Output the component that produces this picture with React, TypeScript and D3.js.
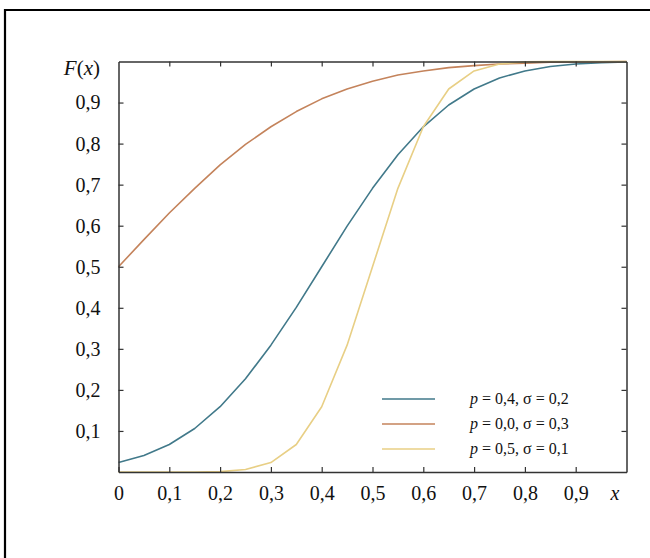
import { useEffect, useRef } from 'react';
import * as d3 from 'd3';

// x grid of the curves
const xs = [0, 0.05, 0.1, 0.15, 0.2, 0.25, 0.3, 0.35, 0.4, 0.45, 0.5, 0.55, 0.6, 0.65, 0.7, 0.75, 0.8, 0.85, 0.9, 0.95, 1];

// p = 0,4, sigma = 0,2
const blue = [0.023, 0.04, 0.067, 0.106, 0.159, 0.227, 0.309, 0.401, 0.5, 0.599, 0.691, 0.773, 0.841, 0.894, 0.933, 0.96, 0.977, 0.988, 0.994, 0.997, 0.999];
// p = 0,0, sigma = 0,3
const orange = [0.5, 0.566, 0.631, 0.691, 0.748, 0.798, 0.841, 0.878, 0.909, 0.933, 0.952, 0.967, 0.977, 0.985, 0.99, 0.994, 0.996, 0.998, 0.999, 0.999, 1];
// p = 0,5, sigma = 0,1
const yellow = [0, 0, 0, 0, 0.001, 0.006, 0.023, 0.067, 0.159, 0.309, 0.5, 0.691, 0.841, 0.933, 0.977, 0.994, 0.999, 1, 1, 1, 1];

const seriesNames = ['p = 0,4, σ = 0,2', 'p = 0,0, σ = 0,3', 'p = 0,5, σ = 0,1'];
const seriesColors = ['#41798a', '#c4835b', '#e8cf85'];

const xTicks = [0, 0.1, 0.2, 0.3, 0.4, 0.5, 0.6, 0.7, 0.8, 0.9];
const yTicks = [0.1, 0.2, 0.3, 0.4, 0.5, 0.6, 0.7, 0.8, 0.9];

const fmt = (d: number) => (d === 0 ? '0' : d3.format('.1f')(d).replace('.', ','));

export default function App() {
  const ref = useRef<SVGSVGElement>(null);

  useEffect(() => {
    const W = 650;
    const H = 558;
    const m = { left: 118.5, right: 626.5, top: 61.5, bottom: 472 };
    const svg = d3.select(ref.current);
    svg.selectAll('*').remove();

    svg.append('rect').attr('width', W).attr('height', H).attr('fill', '#fff');
    // outer frame: only the left and top edges are in view
    svg.append('path')
      .attr('d', `M5,${H}V10H${W}`)
      .attr('fill', 'none').attr('stroke', '#000').attr('stroke-width', 2.2);

    const x = d3.scaleLinear().domain([0, 1]).range([m.left, m.right]);
    const y = d3.scaleLinear().domain([0, 1]).range([m.bottom, m.top]);

    const font = "'Liberation Serif', 'Times New Roman', serif";

    // curves
    const line = d3.line<number>().x((d, i) => x(xs[i])).y(d => y(d));
    [blue, orange, yellow].forEach((s, k) => {
      svg.append('path')
        .attr('d', line(s))
        .attr('fill', 'none')
        .attr('stroke', seriesColors[k])
        .attr('stroke-width', 1.6)
        .attr('stroke-linejoin', 'round');
    });

    const styleAxis = (g: any, labels: boolean) => {
      g.select('.domain').attr('stroke', '#333').attr('stroke-width', 1.5);
      g.selectAll('.tick line').attr('stroke', '#333').attr('stroke-width', 1.2);
      g.selectAll('.tick text')
        .attr('fill', '#111')
        .style('font-family', font)
        .style('font-size', '20px')
        .style('display', labels ? null : 'none');
    };

    svg.append('g')
      .attr('transform', `translate(0,${m.bottom})`)
      .call(d3.axisBottom(x).tickValues(xTicks).tickSize(-5).tickPadding(14).tickSizeOuter(0).tickFormat(fmt as any))
      .call((g: any) => styleAxis(g, true));
    svg.append('g')
      .attr('transform', `translate(0,${m.top})`)
      .call(d3.axisTop(x).tickValues(xTicks.slice(1)).tickSize(-5).tickSizeOuter(0))
      .call((g: any) => styleAxis(g, false));
    svg.append('g')
      .attr('transform', `translate(${m.left},0)`)
      .call(d3.axisLeft(y).tickValues(yTicks).tickSize(-5).tickPadding(18).tickSizeOuter(0).tickFormat(fmt as any))
      .call((g: any) => styleAxis(g, true));
    svg.append('g')
      .attr('transform', `translate(${m.right},0)`)
      .call(d3.axisRight(y).tickValues(yTicks).tickSize(-5).tickSizeOuter(0))
      .call((g: any) => styleAxis(g, false));

    // axis titles
    const fx = svg.append('text')
      .attr('x', 100).attr('y', 75)
      .attr('text-anchor', 'end')
      .style('font-family', font).style('font-size', '21px').attr('fill', '#111');
    fx.append('tspan').attr('font-style', 'italic').text('F');
    fx.append('tspan').text('(');
    fx.append('tspan').attr('font-style', 'italic').text('x');
    fx.append('tspan').text(')');

    svg.append('text')
      .attr('x', 615).attr('y', 500)
      .attr('text-anchor', 'middle')
      .attr('font-style', 'italic')
      .style('font-family', font).style('font-size', '20px').attr('fill', '#111')
      .text('x');

    // legend
    const lg = svg.append('g');
    seriesNames.forEach((name, k) => {
      const ly = 399 + k * 25;
      lg.append('line')
        .attr('x1', 382).attr('x2', 435).attr('y1', ly).attr('y2', ly)
        .attr('stroke', seriesColors[k]).attr('stroke-width', 1.6);
      const t = lg.append('text')
        .attr('x', 470).attr('y', ly + 5)
        .style('font-family', font).style('font-size', '16px').attr('fill', '#111');
      t.append('tspan').attr('font-style', 'italic').text(name.slice(0, 1));
      t.append('tspan').text(name.slice(1));
    });
  }, []);

  return (
    <svg ref={ref} width={650} height={558} style={{ position: 'absolute', left: 0, top: 0 }} />
  );
}
